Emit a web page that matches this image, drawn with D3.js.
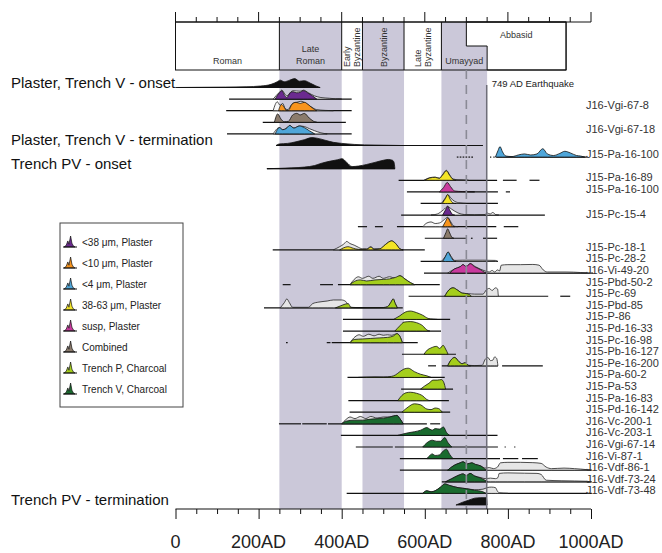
<!DOCTYPE html>
<html>
<head>
<meta charset="utf-8">
<script src="https://cdn.jsdelivr.net/npm/d3@7"></script>
<style>
  body { margin: 0; background: #fff; }
  text { font-family: "Liberation Sans", Arial, sans-serif; }
</style>
</head>
<body>
<div id="chart"></div>
<script>
// ---------------- Datos ----------------
// periodos historicos (anio inicio, anio fin)
const periodNames = ["Roman", "Late Roman", "Early Byzantine", "Byzantine", "Late Byzantine", "Umayyad", "Abbasid"]
const periodStart = [0, 250, 400, 450, 550, 640, 750]
const periodEnd = [250, 400, 450, 550, 640, 750, 940]
const periodShaded = [false, true, false, true, false, true, false]
const periodVertical = [false, false, true, true, true, false, false]
const abbasidTopStart = 700
const quakeYear = 749
const dashedYear = 700

const xTicksMajor = [0, 200, 400, 600, 800, 1000]
const xTickLabels = ["0", "200AD", "400AD", "600AD", "800AD", "1000AD"]

// leyenda
const groupKeys = ["lt38", "lt10", "lt4", "s3863", "susp", "comb", "trP", "trV"]
const groupLabels = ["<38 μm, Plaster", "<10 μm, Plaster", "<4 μm, Plaster", "38-63 μm, Plaster",
  "susp, Plaster", "Combined", "Trench P, Charcoal", "Trench V, Charcoal"]
const groupColors = ["#6b2a8f", "#f7941d", "#4fa6d9", "#f3e426", "#c93a9e", "#8b7b6c", "#a4ce1c", "#1a6b2f"]

// etiquetas izquierda (fila) y derecha (fila)
const leftLabels = ["Plaster, Trench V - onset", "Plaster, Trench V - termination", "Trench PV - onset", "Trench PV - termination"]
const leftRows = [0, 5, 7, 36]
const sampleLabels = ["J16-Vgi-67-8", "J16-Vgi-67-18", "J15-Pa-16-100", "J15-Pa-16-89", "J15-Pa-16-100", "J15-Pc-15-4",
  "J15-Pc-18-1", "J15-Pc-28-2", "J16-Vi-49-20", "J15-Pbd-50-2", "J15-Pc-69", "J15-Pbd-85", "J15-P-86",
  "J15-Pd-16-33", "J15-Pc-16-98", "J15-Pb-16-127", "J15-Pe-16-200", "J15-Pa-60-2", "J15-Pa-53", "J15-Pa-16-83",
  "J15-Pd-16-142", "J16-Vc-200-1", "J16-Vc-203-1", "J16-Vgi-67-14", "J16-Vi-87-1", "J16-Vdf-86-1",
  "J16-Vdf-73-24", "J16-Vdf-73-48"]
const sampleRows = [1.8, 3.8, 6, 8, 9, 11.2, 14, 15, 16, 17, 18, 19, 20, 21, 22, 23, 24, 25, 26, 27, 28, 29, 30, 31, 32, 33, 34, 35]

// distribuciones: [anio, densidad relativa]
const vOnset = [[0,0],[60,0.02],[120,0.04],[170,0.07],[205,0.14],[230,0.3],[245,0.55],[252,0.7],[262,0.55],[275,0.7],[287,0.85],[298,0.6],[310,0.65],[325,0.4],[338,0.15],[348,0]]
const vgi8L38 = [[235,0],[250,0.65],[256,0.85],[263,0.5],[268,0.3],[278,0.7],[283,0.8],[300,0.75],[308,0.85],[320,0.6],[335,0.3],[350,0.15],[370,0.08],[385,0.03],[400,0]]
const vgi8P38 = [[240,0],[250,0.6],[256,0.8],[262,0.4],[268,0.15],[276,0.6],[283,0.7],[292,0.6],[300,0.65],[308,0.8],[318,0.6],[330,0.3],[340,0]]
const vgi8L10 = [[235,0],[245,0.85],[252,0.5],[258,0.7],[264,0.2],[270,0.1],[282,0.7],[292,0.8],[302,0.9],[312,0.75],[325,0.4],[340,0.1],[360,0.03],[380,0]]
const vgi8P10 = [[248,0],[255,0.6],[262,0.3],[266,0.05],[272,0.05],[280,0.6],[290,0.8],[300,0.7],[310,0.8],[322,0.5],[335,0.1],[340,0]]
const vgi18Comb = [[238,0],[246,0.8],[254,0.3],[262,0.05],[272,0.1],[282,0.7],[292,0.85],[300,0.7],[310,0.85],[322,0.4],[335,0.05],[340,0]]
const vgi18L4 = [[235,0],[250,0.6],[258,0.4],[266,0.5],[275,0.8],[285,0.55],[298,0.75],[310,0.7],[322,0.5],[335,0.3],[350,0.1],[365,0]]
const vgi18P4 = [[240,0],[250,0.6],[258,0.4],[266,0.5],[275,0.8],[285,0.55],[298,0.75],[310,0.6],[322,0.3],[335,0]]
const vTerm = [[242,0],[250,0.15],[270,0.2],[290,0.35],[310,0.55],[328,0.75],[340,0.7],[360,0.5],[380,0.3],[400,0.2],[430,0.1],[480,0.04],[540,0]]
const pa100Blue = [[770,0],[776,0.6],[781,1.0],[787,0.5],[795,0.1],[810,0.05],[825,0.2],[840,0.3],[855,0.2],[870,0.3],[884,0.8],[895,0.3],[910,0.15],[925,0.35],[937,0.55],[950,0.4],[965,0.15],[975,0.1],[985,0]]
const pvOnset = [[220,0],[250,0.03],[280,0.08],[310,0.15],[335,0.3],[350,0.5],[370,0.7],[390,0.85],[401,0.95],[412,0.6],[425,0.2],[440,0.25],[460,0.4],[480,0.6],[500,0.8],[512,0.88],[522,0.8],[526,0.6],[528,0]]
const pa89L = [[598,0],[612,0.25],[625,0.3],[635,0.2],[642,0.5],[652,0.95],[660,0.5],[668,0.12],[680,0.05],[695,0.02],[705,0]]
const pa89P = [[600,0],[612,0.22],[625,0.28],[635,0.18],[642,0.45],[652,0.9],[660,0.45],[668,0.08],[675,0]]
const pa100Susp = [[635,0],[645,0.4],[654,0.9],[662,0.5],[672,0.08],[690,0.03],[720,0]]
const pc15L3863 = [[640,0],[650,0.55],[655,0.85],[663,0.5],[672,0.2],[685,0.05],[700,0]]
const pc15P3863 = [[642,0],[650,0.5],[655,0.85],[661,0.4],[668,0.05],[675,0]]
const pc15L38 = [[615,0],[630,0.1],[645,0.5],[655,0.8],[665,0.55],[680,0.2],[695,0.05],[720,0.02],[745,0.05],[750,0.2],[757,0.1],[764,0.25],[770,0.05],[778,0]]
const pc15P38 = [[643,0],[650,0.5],[655,0.85],[661,0.4],[667,0.05],[672,0]]
const pc15L10 = [[595,0],[605,0.35],[615,0.45],[625,0.3],[635,0.35],[645,0.6],[655,0.9],[662,0.5],[670,0.05],[680,0]]
const pc15P10 = [[643,0],[650,0.5],[655,0.85],[661,0.45],[667,0.05],[672,0]]
const pc15Comb = [[645,0],[651,0.55],[655,0.9],[660,0.5],[666,0.05],[670,0]]
const pc18L = [[380,0],[395,0.3],[405,0.55],[412,0.8],[420,0.6],[430,0.45],[440,0.25],[450,0.1],[460,0.1],[470,0.3],[478,0.1],[492,0.1],[505,0.5],[520,0.85],[530,0.6],[540,0.1],[548,0]]
const pc18P = [[395,0],[405,0.2],[415,0.3],[428,0.15],[440,0.05],[460,0.05],[470,0.25],[478,0.05],[492,0.1],[505,0.5],[520,0.85],[530,0.6],[540,0.1],[548,0]]
const pc28L = [[640,0],[650,0.5],[656,0.9],[663,0.5],[672,0.1],[690,0.12],[740,0.12],[770,0.1],[775,0]]
const pc28P = [[643,0],[650,0.5],[656,0.9],[662,0.5],[670,0.05],[675,0]]
const vi49L = [[655,0],[672,0.4],[685,0.6],[692,0.8],[700,0.6],[709,0.9],[722,0.6],[735,0.35],[745,0.2],[755,0.1],[762,0.25],[768,0.1],[775,0.3],[780,0.2],[784,0.75],[800,0.8],[830,0.8],[860,0.82],[875,0.75],[885,0.3],[895,0.1],[940,0.1],[975,0.05],[990,0]]
const vi49P = [[660,0],[672,0.4],[685,0.6],[692,0.8],[700,0.6],[709,0.9],[720,0.6],[735,0.3],[745,0.05],[750,0]]
const pbd50L = [[420,0],[430,0.5],[440,0.75],[450,0.6],[465,0.8],[475,0.6],[490,0.8],[500,0.6],[515,0.75],[530,0.6],[540,0.85],[552,0.55],[565,0.2],[575,0]]
const pbd50P = [[420,0],[430,0.3],[445,0.45],[460,0.35],[480,0.45],[500,0.5],[515,0.55],[530,0.7],[540,0.85],[552,0.55],[565,0.2],[575,0]]
const pc69L = [[648,0],[658,0.6],[668,0.8],[680,0.55],[690,0.3],[705,0.25],[720,0.2],[740,0.2],[748,0.6],[755,0.75],[762,0.55],[770,0.8],[775,0.7],[777,0]]
const pc69P = [[648,0],[658,0.6],[668,0.8],[680,0.55],[690,0.3],[700,0.25],[708,0.15],[712,0]]
const pbd85L = [[252,0],[262,0.5],[268,0.85],[274,0.5],[282,0.05],[320,0.05],[330,0.4],[345,0.55],[365,0.65],[380,0.75],[400,0.75],[410,0.6],[418,0.1],[430,0.02],[500,0.03],[510,0.1],[518,0.5],[524,0.85],[529,0.4],[534,0]]
const pbd85P = [[385,0],[398,0.2],[408,0.35],[416,0.4],[422,0.05],[440,0.02],[500,0.03],[510,0.1],[518,0.5],[524,0.85],[529,0.4],[534,0]]
const p86 = [[525,0],[540,0.35],[553,0.7],[565,0.8],[580,0.65],[595,0.4],[608,0.1],[620,0.03],[630,0]]
const pd33 = [[528,0],[540,0.5],[550,0.85],[565,0.9],[580,0.8],[595,0.5],[605,0.1],[612,0]]
const pc98L = [[420,0],[432,0.55],[442,0.75],[452,0.6],[465,0.8],[478,0.65],[490,0.8],[500,0.7],[510,0.75],[520,0.7],[533,0.85],[540,0.6],[546,0]]
const pc98P = [[420,0],[430,0.3],[450,0.35],[470,0.4],[490,0.45],[510,0.5],[525,0.65],[533,0.85],[540,0.6],[546,0]]
const pb127 = [[598,0],[606,0.4],[615,0.6],[628,0.75],[636,0.55],[644,0.85],[650,0.5],[656,0]]
const pe200L = [[655,0],[662,0.5],[672,0.8],[682,0.4],[690,0.2],[697,0.3],[705,0.05],[720,0.02],[738,0.05],[745,0.6],[752,0.8],[758,0.5],[764,0.55],[768,0.85],[773,0.7],[776,0]]
const pe200P = [[655,0],[662,0.5],[672,0.8],[682,0.4],[690,0.2],[697,0.3],[705,0.05],[710,0]]
const pa602 = [[440,0],[460,0.03],[480,0.05],[500,0.04],[520,0.1],[530,0.25],[540,0.55],[550,0.8],[560,0.88],[575,0.55],[590,0.3],[605,0.15],[615,0]]
const pa53 = [[590,0],[600,0.3],[610,0.55],[620,0.85],[630,0.85],[640,0.9],[646,0.6],[650,0]]
const pa83 = [[535,0],[545,0.5],[555,0.75],[565,0.8],[580,0.7],[595,0.45],[605,0.1],[612,0]]
const pd142 = [[545,0],[560,0.5],[575,0.8],[590,0.7],[605,0.3],[615,0.25],[625,0.4],[633,0.35],[642,0]]
const vc200L = [[400,0],[410,0.4],[420,0.65],[432,0.5],[445,0.7],[458,0.5],[470,0.7],[485,0.55],[500,0.65],[515,0.65],[525,0.75],[533,0.8],[540,0.5],[548,0]]
const vc200P = [[400,0],[410,0.25],[430,0.35],[450,0.35],[470,0.45],[490,0.5],[510,0.6],[525,0.75],[533,0.8],[540,0.5],[548,0]]
const vc203 = [[535,0],[560,0.25],[575,0.35],[590,0.5],[605,0.75],[612,0.6],[618,0.5],[625,0.65],[635,0.6],[645,0.8],[652,0.3],[660,0]]
const vgi14 = [[595,0],[605,0.4],[618,0.65],[628,0.55],[638,0.55],[648,0.9],[656,0.4],[665,0]]
const vi87 = [[605,0],[612,0.3],[618,0.45],[625,0.3],[635,0.35],[645,0.75],[652,0.9],[660,0.4],[668,0]]
const vdf86L = [[655,0],[670,0.45],[685,0.7],[692,0.8],[702,0.6],[713,0.7],[722,0.55],[735,0.4],[745,0.2],[755,0.25],[765,0.15],[775,0.3],[782,0.7],[800,0.75],[830,0.75],[860,0.72],[880,0.65],[892,0.3],[905,0.15],[935,0.2],[960,0.15],[990,0.05],[1000,0]]
const vdf86P = [[655,0],[670,0.45],[685,0.7],[692,0.8],[702,0.6],[713,0.7],[722,0.55],[735,0.4],[745,0.1],[750,0]]
const vdf24L = [[650,0],[665,0.3],[680,0.6],[692,0.75],[700,0.6],[709,0.8],[720,0.55],[735,0.4],[745,0.3],[758,0.35],[770,0.3],[776,0.4],[779,0.8],[800,0.85],[840,0.82],[870,0.8],[880,0.7],[892,0.15],[930,0.1],[990,0.05],[1000,0]]
const vdf24P = [[650,0],[665,0.3],[680,0.6],[692,0.75],[700,0.6],[709,0.8],[720,0.55],[735,0.35],[745,0.15],[752,0]]
const vdf48L = [[595,0],[605,0.25],[615,0.15],[625,0.25],[638,0.6],[648,0.9],[660,0.75],[680,0.55],[700,0.45],[720,0.35],[740,0.4],[750,0.55],[760,0.6],[770,0.55],[775,0.2],[780,0.05],[800,0]]
const vdf48P = [[595,0],[605,0.25],[615,0.15],[625,0.25],[638,0.6],[648,0.9],[660,0.75],[680,0.55],[700,0.45],[720,0.3],[740,0.15],[748,0]]
const pvTerm = [[675,0],[690,0.25],[705,0.45],[720,0.65],[735,0.7],[748,0.7],[750,0]]

// filas: grupo, verosimilitud, posterior y tramos de linea
const rowGroup = ["bnd","lt38","lt10","comb","lt4","bnd","lt4","bnd","s3863","susp","s3863","lt38","lt10","comb",
  "s3863","lt4","susp","trP","trP","trP","trP","trP","trP","trP","trP","trP","trP","trP","trP",
  "trV","trV","trV","trV","trV","trV","trV","bnd"]
const rowLike = [null, vgi8L38, vgi8L10, null, vgi18L4, null, null, null, pa89L, null, pc15L3863, pc15L38, pc15L10, null,
  pc18L, pc28L, vi49L, pbd50L, pc69L, pbd85L, null, null, pc98L, null, pe200L, null, null, null, null,
  vc200L, null, null, null, vdf86L, vdf24L, vdf48L, null]
const rowPost = [vOnset, vgi8P38, vgi8P10, vgi18Comb, vgi18P4, vTerm, pa100Blue, pvOnset, pa89P, pa100Susp, pc15P3863, pc15P38, pc15P10, pc15Comb,
  pc18P, pc28P, vi49P, pbd50P, pc69P, pbd85P, p86, pd33, pc98P, pb127, pe200P, pa602, pa53, pa83, pd142,
  vc200P, vc203, vgi14, vi87, vdf86P, vdf24P, vdf48P, pvTerm]
const rowRanges = [
  [[5,348]], [[129,424]], [[122,424]], [[210,410]], [[124,424]], [[242,740]],
  [[677,681],[684,688],[691,695],[698,702],[705,709],[712,716],[757,760],[765,768],[772,990]],
  [[220,528]],
  [[537,774],[788,821],[852,876]], [[557,776],[795,805]], [[590,776]], [[543,889]],
  [[439,461],[480,499],[533,772],[790,825]], [[600,701],[711,715],[740,774]],
  [[234,600]], [[590,776]], [[598,1005]], [[258,277],[348,379],[391,636]], [[561,897],[926,950]],
  [[213,547]], [[403,661]], [[403,639]], [[266,270],[364,373],[376,583]], [[545,675]],
  [[608,627],[641,776],[786,884]], [[414,648]], [[543,668]], [[416,658]], [[419,661]],
  [[249,302],[305,364],[367,605],[613,637]], [[398,775]], [[434,523],[528,776],[792,795],[815,818]],
  [[540,781],[788,825],[834,872]], [[540,1002]], [[641,1002]], [[412,1002]], []
]

// icono de la leyenda
const iconShape = [[0,0],[0.2,0.15],[0.35,0.55],[0.45,0.25],[0.6,1],[0.72,0.35],[0.85,0.1],[1,0]]

// ---------------- Dibujo ----------------
const W = 662, H = 553
const boxTop = 22, boxMid = 46, boxBottom = 70, axisY = 509
const color = d3.scaleOrdinal().domain(groupKeys.concat(["bnd"])).range(groupColors.concat(["#111111"]))

const x = d3.scaleLinear().domain([0, 1000]).range([175.5, 591])
const y = d3.scaleLinear().domain([0, 36]).range([87.5, 505])
const h = d3.scaleLinear().domain([0, 1]).range([0, 10.5])

const svg = d3.select("#chart").append("svg").attr("width", W).attr("height", H)

// bandas sombreadas
const shadedIdx = d3.range(periodNames.length).filter((i) => periodShaded[i])
svg.append("g").selectAll("rect").data(shadedIdx).join("rect")
  .attr("x", (i) => x(periodStart[i]))
  .attr("width", (i) => x(periodEnd[i]) - x(periodStart[i]))
  .attr("y", boxTop).attr("height", axisY - boxTop)
  .attr("fill", "#cbc8d9")

// celda Abbasid (escalonada) en blanco
const abb = periodNames.length - 1
svg.append("path")
  .attr("d", `M${x(abbasidTopStart)},${boxTop}H${x(periodEnd[abb])}V${boxBottom}H${x(periodStart[abb])}V${boxMid}H${x(abbasidTopStart)}Z`)
  .attr("fill", "#fff").attr("stroke", "#111").attr("stroke-width", 1)

// marco de periodos
const box = svg.append("g").attr("stroke", "#111").attr("stroke-width", 1).attr("fill", "none")
box.append("rect").attr("x", x(0)).attr("y", boxTop).attr("width", x(periodEnd[abb]) - x(0)).attr("height", boxBottom - boxTop)
box.selectAll("line.sep").data(periodStart.slice(1, -1)).join("line")
  .attr("x1", (d) => x(d)).attr("x2", (d) => x(d)).attr("y1", boxTop).attr("y2", boxBottom)

// textos de periodos
const ptxt = svg.append("g").attr("fill", "#333").attr("font-size", 9)
periodNames.forEach((name, i) => {
  const words = name.split(" ")
  let cx = x((periodStart[i] + periodEnd[i]) / 2)
  if (i === abb) {
    ptxt.append("text").attr("x", x((abbasidTopStart + periodEnd[i]) / 2)).attr("y", 38)
      .attr("text-anchor", "middle").text(name)
  } else if (periodVertical[i]) {
    words.forEach((w, k) => {
      const tx = cx + 3.3 + (k - (words.length - 1) / 2) * 10
      ptxt.append("text").attr("transform", `translate(${tx},${boxBottom - 3}) rotate(-90)`)
        .attr("text-anchor", "start").text(w)
    })
  } else {
    words.forEach((w, k) => {
      ptxt.append("text").attr("x", cx).attr("y", boxBottom - 6 - (words.length - 1 - k) * 12)
        .attr("text-anchor", "middle").text(w)
    })
  }
})

// eje superior
const topAxis = svg.append("g").attr("stroke", "#111").attr("stroke-width", 1)
topAxis.append("line").attr("x1", x(0)).attr("x2", x(1000)).attr("y1", boxTop).attr("y2", boxTop)
topAxis.selectAll("line.t").data(d3.range(0, 1001, 50)).join("line")
  .attr("x1", (d) => x(d)).attr("x2", (d) => x(d))
  .attr("y1", boxTop).attr("y2", (d) => boxTop - (d % 200 === 0 ? 10 : 5))

// lineas de rango
const area = (base) => d3.area().x((d) => x(d[0])).y0(base).y1((d) => base - h(d[1])).curve(d3.curveMonotoneX)
const rowsG = svg.append("g")
rowRanges.forEach((segs, r) => {
  rowsG.selectAll(null).data(segs).join("line")
    .attr("x1", (d) => x(d[0])).attr("x2", (d) => x(d[1]))
    .attr("y1", y(r)).attr("y2", y(r))
    .attr("stroke", "#111").attr("stroke-width", 1.2)
})

// distribuciones
rowPost.forEach((post, r) => {
  const base = y(r)
  if (rowLike[r]) {
    rowsG.append("path").attr("d", area(base)(rowLike[r]))
      .attr("fill", rowGroup[r] === "lt38" || rowGroup[r] === "lt10" || rowGroup[r] === "lt4" ? "#f7f7f7" : "#e6e6e6")
      .attr("stroke", "#222").attr("stroke-width", 0.8)
  }
  rowsG.append("path").attr("d", area(base)(post))
    .attr("fill", color(rowGroup[r]))
    .attr("stroke", "#111").attr("stroke-width", 0.8)
})

// lineas verticales: 700 (discontinua) y terremoto 749
svg.append("line").attr("x1", x(dashedYear)).attr("x2", x(dashedYear))
  .attr("y1", boxBottom).attr("y2", axisY)
  .attr("stroke", "#8a8a96").attr("stroke-width", 1.6).attr("stroke-dasharray", "9,6")
svg.append("line").attr("x1", x(quakeYear)).attr("x2", x(quakeYear))
  .attr("y1", 85).attr("y2", axisY)
  .attr("stroke", "#6e6e78").attr("stroke-width", 1.5)
svg.append("text").attr("x", x(quakeYear) + 5).attr("y", 86.5)
  .attr("font-size", 9.5).attr("fill", "#222").text(`${quakeYear} AD Earthquake`)

// etiquetas izquierda
svg.append("g").selectAll("text").data(leftLabels).join("text")
  .attr("x", 11).attr("y", (d, i) => y(leftRows[i]))
  .attr("font-size", 15).attr("fill", "#111").text((d) => d)

// etiquetas derecha
svg.append("g").selectAll("text").data(sampleLabels).join("text")
  .attr("x", 586).attr("y", (d, i) => y(sampleRows[i]) + 1)
  .attr("font-size", 11).attr("fill", "#333").text((d) => d)

// eje inferior
const xAxis = d3.axisBottom(x).tickValues(d3.range(0, 1001, 50)).tickSize(5).tickFormat("")
const axG = svg.append("g").attr("transform", `translate(0,${axisY})`).call(xAxis)
axG.select(".domain").attr("d", `M${x(0)},0H${x(1000)}`).attr("stroke", "#111").attr("stroke-width", 1.2)
axG.selectAll(".tick line").attr("stroke", "#111").attr("stroke-width", 1)
  .attr("y2", (d) => (d % 200 === 0 ? 10 : 5))
svg.append("g").selectAll("text").data(xTicksMajor).join("text")
  .attr("x", (d) => x(d)).attr("y", axisY + 39)
  .attr("text-anchor", "middle").attr("font-size", 18).attr("fill", "#222")
  .text((d, i) => xTickLabels[i])

// leyenda
const lg = svg.append("g")
lg.append("rect").attr("x", 60).attr("y", 223).attr("width", 123).attr("height", 184)
  .attr("fill", "#fff").attr("stroke", "#444").attr("stroke-width", 1)
const icon = d3.area().x((d) => 64 + d[0] * 11).y0(0).y1((d) => -d[1] * 11)
groupKeys.forEach((k, i) => {
  const cy = 247 + i * 21
  const g = lg.append("g").attr("transform", `translate(0,${cy})`)
  g.append("path").attr("d", icon(iconShape)).attr("fill", color(k)).attr("stroke", "#111").attr("stroke-width", 0.7)
  g.append("line").attr("x1", 63).attr("x2", 77).attr("y1", 0).attr("y2", 0).attr("stroke", "#111").attr("stroke-width", 1)
  g.append("text").attr("x", 82).attr("y", -1).attr("font-size", 10).attr("fill", "#222").text(groupLabels[i])
})
</script>
</body>
</html>
